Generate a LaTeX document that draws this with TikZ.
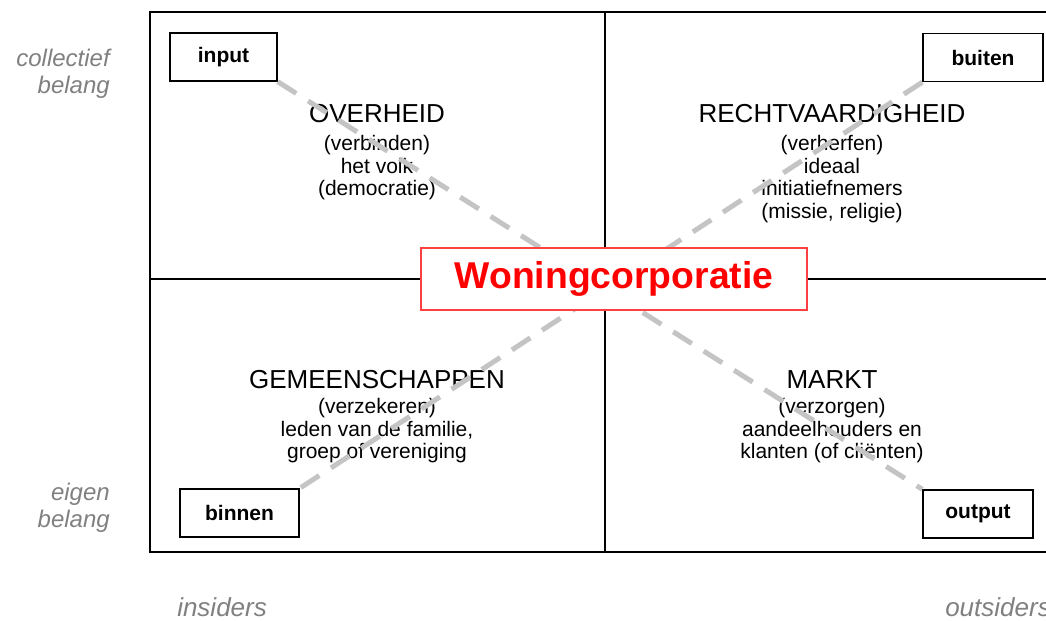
\documentclass[tikz,border=0pt]{standalone}
\usepackage{fontspec}
\setmainfont{Liberation Sans}
\usetikzlibrary{positioning}

\definecolor{dashgray}{HTML}{C4C4C4}
\definecolor{labelgray}{HTML}{808080}

\tikzstyle{pole} = [rectangle, minimum height=36pt, inner sep=0pt, text centered, draw=black, line width=1pt, fill=white, font=\fontsize{15.75}{18}\selectfont\bfseries]
\tikzstyle{sector} = [font=\fontsize{19.5}{22}\selectfont, anchor=base, inner sep=0pt]
\tikzstyle{sectorsub} = [font=\fontsize{15.75}{16.8}\selectfont, align=center, anchor=north, inner sep=0pt]
\tikzstyle{axis} = [font=\fontsize{18}{20.25}\selectfont\itshape, text=labelgray, inner sep=0pt]
\tikzstyle{link} = [draw=dashgray, line width=3.75pt, dash pattern=on 16.5pt off 10.5pt]

\begin{document}
\begin{tikzpicture}[x=0.75pt,y=-0.75pt]
\clip (0,0) rectangle (1046,621);

%Frame
\draw [line width=1.5pt] (150,12) rectangle (1060,552);
\draw [line width=1.2pt] (605,12) -- (605,552);
\draw [line width=1.2pt] (150,279) -- (1060,279);

%Sectors
\node (ovh) [sector] at (377,122) {OVERHEID};
\node (ovhsub) [sectorsub] at (377,135.5) {(verbinden)\\het volk\\(democratie)};
\node (recht) [sector] at (832,122) {RECHTVAARDIGHEID};
\node (rechtsub) [sectorsub] at (832,135.5) {(verherfen)\\ideaal\\initiatiefnemers\\(missie, religie)};
\node (gem) [sector] at (377,388) {GEMEENSCHAPPEN};
\node (gemsub) [sectorsub] at (377,398.5) {(verzekeren)\\leden van de familie,\\groep of vereniging};
\node (markt) [sector] at (832,388) {MARKT};
\node (marktsub) [sectorsub] at (832,398.5) {(verzorgen)\\aandeelhouders en\\klanten (of cliënten)};

%Poles
\node (in) [pole, minimum width=80.25pt] at (223.5,57) {input};
\node (buit) [pole, minimum width=90pt] at (983,57.5) {buiten};
\node (binn) [pole, minimum width=89.25pt] at (239.5,513) {binnen};
\node (out) [pole, minimum width=82.5pt] at (978,514) {output};

%Links
\draw [link] (in.south east) -- (out.north west);
\draw [link] (buit.south west) -- (binn.north east);

%Centre
\node (corp) [rectangle, draw=red!75, line width=1.1pt, fill=white, minimum width=289.5pt, minimum height=46.5pt, text=red, font=\fontsize{28}{30}\selectfont\bfseries] at (614,279) {Woningcorporatie};

%Axes
\node (coll) [axis, align=right, anchor=north east] at (110,49) {collectief\\belang};
\node (eig) [axis, align=right, anchor=north east] at (110,483) {eigen\\belang};
\node (ins) [axis, font=\fontsize{19.5}{22}\selectfont\itshape, anchor=base west] at (177,616) {insiders};
\node (outs) [axis, font=\fontsize{19.5}{22}\selectfont\itshape, anchor=base west] at (945,616) {outsiders};

\end{tikzpicture}
\end{document}
